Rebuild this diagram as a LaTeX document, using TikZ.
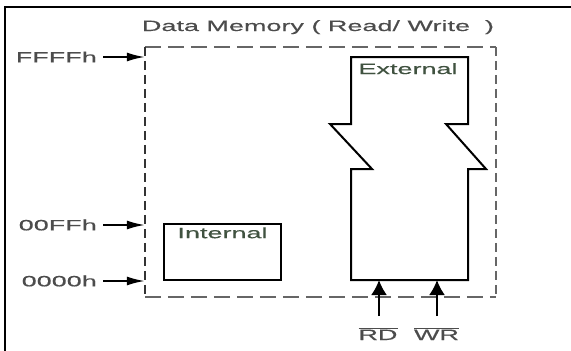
\documentclass[tikz,border=0pt]{standalone}
\usepackage{fontspec}
\setmainfont[FakeStretch=1.8,FakeBold=0.4]{Liberation Sans}
\usetikzlibrary{arrows.meta}
\definecolor{textgray}{gray}{0.3}
\definecolor{labgreen}{rgb}{0.25,0.32,0.25}
\definecolor{dashgray}{gray}{0.4}

\begin{document}
\begin{tikzpicture}[
		x=1pt,y=-1pt,
		lbl/.style={inner sep=0pt,text=textgray,font=\fontsize{15}{17}\selectfont},
		addr/.style={-{Latex[length=18pt,width=9pt]},line width=1.8pt,shorten <=6pt},
		sig/.style={-{Latex[length=15pt,width=16pt]},line width=2pt},
		memline/.style={line width=2pt,line join=miter}
	]
	\useasboundingbox (0,0) rectangle (571,351);
	\draw[line width=2pt] (5,351) -- (5,7) -- (571,7);

	% data memory area
	\node (mem) [minimum width=351pt,minimum height=250pt,inner sep=0pt] at (320.5,172) {};
	\draw[dashgray,line width=1.5pt,dash pattern=on 16pt off 7pt] (mem.north west) -- (mem.north east);
	\draw[dashgray,line width=1.5pt,dash pattern=on 16pt off 7pt] (mem.south west) -- (mem.south east);
	\draw[black!80,line width=1.5pt,dash pattern=on 9pt off 5pt] (mem.north west) -- (mem.south west);
	\draw[dashgray,line width=1.5pt,dash pattern=on 9pt off 5pt] (mem.north east) -- (mem.south east);
	\node[lbl,anchor=base] (title) at (318,31) {Data Memory ( Read/ Write\ \ )};

	% addresses
	\node[lbl,anchor=east] (ffff) at (97,57) {FFFFh};
	\node[lbl,anchor=east] (00ff) at (97,225) {00FFh};
	\node[lbl,anchor=east] (0000) at (97,281) {0000h};
	\foreach \a in {ffff,00ff,0000}
		\draw[addr] (\a.east) -- (\a.east -| mem.west);

	% internal
	\node (int) [draw,line width=1.8pt,minimum width=117pt,minimum height=56pt,inner sep=0pt] at (222.5,252) {};
	\node[lbl,text=labgreen,anchor=north] (intlbl) at ([yshift=-4pt]int.north) {Internal};

	% external
	\draw[memline] (351,280) -- (351,169) -- (372,169) -- (330,124) -- (351,124) -- (351,57)
		-- (468,57) -- (468,124) -- (446,124) -- (486,169) -- (468,169) -- (468,280) -- cycle;
	\coordinate (extop) at (408,57);
	\coordinate (exbot) at (408,280);
	\node[lbl,text=labgreen,anchor=north] (extlbl) at ([yshift=-6pt]extop) {External};

	% read / write
	\node[lbl,anchor=base] (rd) at (378,340) {$\overline{\mbox{RD}}$};
	\node[lbl,anchor=base] (wr) at (436.5,340) {$\overline{\mbox{WR}}$};
	\coordinate (rdin) at (379,316);
	\coordinate (wrin) at (437,316);
	\draw[sig] (rdin) -- (rdin |- exbot);
	\draw[sig] (wrin) -- (wrin |- exbot);
\end{tikzpicture}
\end{document}
